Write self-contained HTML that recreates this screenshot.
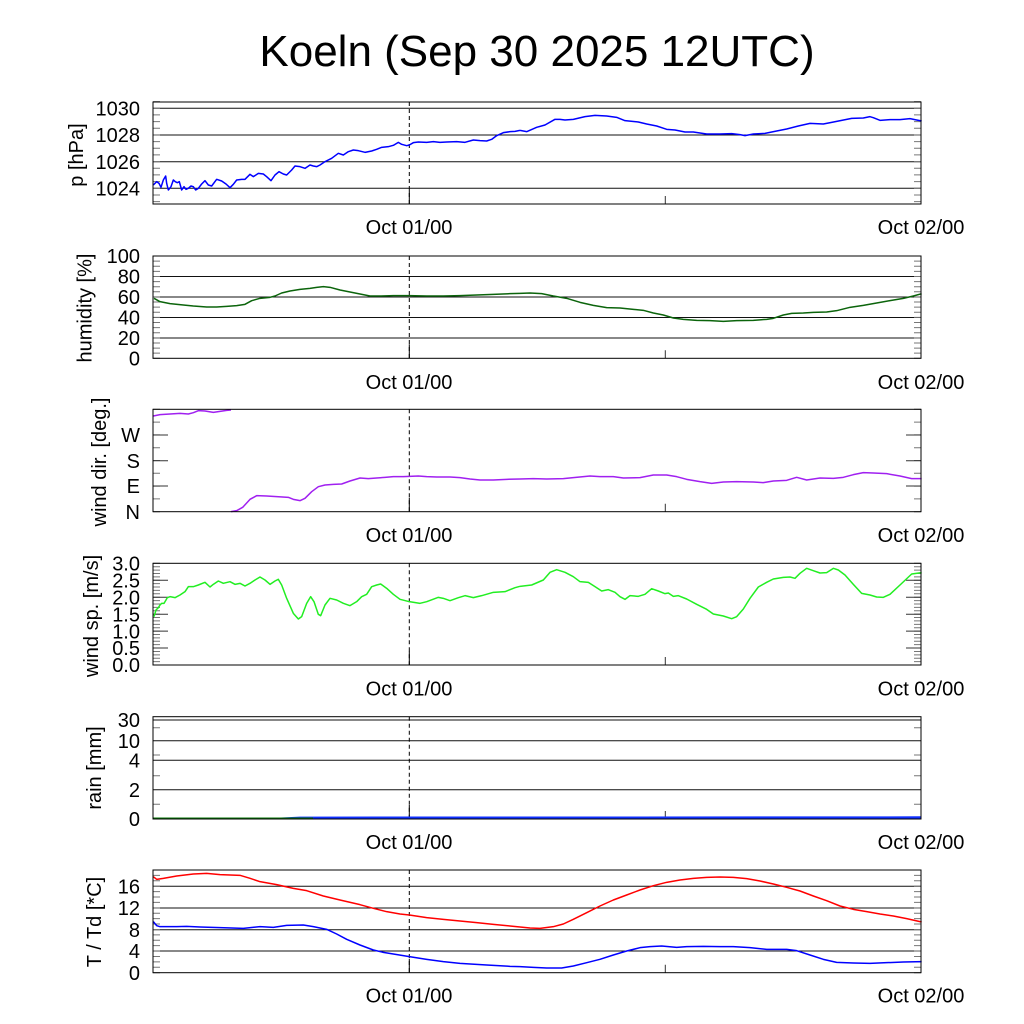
<!DOCTYPE html>
<html><head><meta charset="utf-8"><style>
html,body{margin:0;padding:0;background:#fff;}
svg{display:block;font-family:"Liberation Sans",Arial,sans-serif;}
.t{font-size:20px;fill:#000;}
.d{fill:none;stroke-width:1.5;vector-effect:non-scaling-stroke;stroke-linejoin:round;}
</style></head><body>
<svg width="1024" height="1024" viewBox="0 0 1024 1024" xmlns="http://www.w3.org/2000/svg">
<rect width="1024" height="1024" fill="#fff"/>
<text x="537" y="66" text-anchor="middle" font-size="44">Koeln (Sep 30 2025 12UTC)</text>

<!-- grid lines -->
<path d="M153 108.3H921M153 135H921M153 161.7H921M153 188.3H921
M153 276.5H921M153 297H921M153 317.5H921M153 338H921
M153 720H921M153 740.7H921M153 760.3H921M153 789.7H921
M153 886.3H921M153 908H921M153 929.7H921M153 951H921" stroke="#111" stroke-width="1" fill="none"/>

<!-- minor ticks via dashed lines -->
<g stroke="#777" stroke-width="7" fill="none">
<path d="M156.5 101.1V202.5M917.5 101.1V202.5" stroke-dasharray="1 5.667"/>
<path d="M156.5 255.5V359M917.5 255.5V359" stroke-dasharray="1 4.115"/>
<path d="M156.5 408.8V512.5M917.5 408.8V512.5" stroke-dasharray="1 11.8"/>
<path d="M156.5 562.8V666M917.5 562.8V666" stroke-dasharray="1 2.39"/>
<path d="M156.5 869.5V973.5M917.5 869.5V973.5" stroke-dasharray="1 4.405"/>
<path d="M153 727.7H160M153 755H160M153 775.7H160M153 804.3H160M914 727.7H921M914 755H921M914 775.7H921M914 804.3H921" stroke-width="1"/>
</g>
<!-- major ticks -->
<g stroke="#333" stroke-width="1" fill="none">
<path d="M153 435H168M153 460.7H168M153 486H168M906 435H921M906 460.7H921M906 486H921"/>
<path d="M153 580.3H168M153 597.2H168M153 614.2H168M153 631.1H168M153 648H168M906 580.3H921M906 597.2H921M906 614.2H921M906 631.1H921M906 648H921"/>
<path d="M665.3 196V204M665.3 350.3V358.3M665.3 503.7V511.7M665.3 657V665M665.3 811V819M665.3 964.7V972.7"/>
<path d="M409.3 190V204M409.3 344.3V358.3M409.3 497.7V511.7M409.3 651V665M409.3 805V819M409.3 958.7V972.7" stroke="#000"/>
</g>
<!-- dashed vertical -->
<path d="M409.3 102V204M409.3 256V358.3M409.3 409.3V511.7M409.3 563.3V665M409.3 716.7V819M409.3 870V972.7" stroke="#000" stroke-width="1" stroke-dasharray="4 3" fill="none"/>

<!-- rain data -->
<polygon points="240,819 270,818 300,816.6 921,816.3 921,819" fill="#1030ff"/>
<path d="M153 818.3H313" stroke="#0a7a0a" stroke-width="1.5"/>

<!-- pressure -->
<g transform="translate(60,90) scale(0.333333)">
<polyline class="d" stroke="#0000ff" points="280,285 290,275 297,280 303,292 310,270 317,258 320,280 325,300 333,290 340,270 346,275 352,278 358,275 365,300 372,290 378,298 385,295 393,288 400,290 407,300 415,295 425,282 435,272 445,285 455,288 470,268 485,273 498,282 510,293 520,283 530,270 545,268 555,268 570,253 580,260 595,250 610,252 620,260 633,272 645,255 657,245 670,252 680,255 695,240 705,228 720,230 735,235 750,225 760,228 770,230 780,225 795,215 815,205 835,190 850,195 865,185 880,180 895,182 915,187 935,183 950,178 965,172 985,170 1000,166 1015,157 1025,163 1040,167 1048,165 1060,158 1075,156 1100,157 1120,155 1140,157 1160,156 1190,155 1215,157 1240,150 1260,152 1280,153 1295,148 1310,137 1330,128 1350,125 1365,124 1380,121"/>
</g>
<g transform="translate(520,90) scale(0.333333)">
<polyline class="d" stroke="#0000ff" points="0,121 20,125 50,112 75,105 105,88 120,88 135,90 160,88 195,80 225,76 260,78 290,82 315,92 355,96 380,102 410,108 440,118 465,120 495,126 520,126 560,132 600,132 635,131 660,134 675,137 700,132 735,130 770,123 800,117 835,108 870,100 910,102 935,97 965,91 995,85 1030,84 1050,80 1060,83 1080,91 1110,89 1140,89 1170,86 1190,90 1205,93"/>
</g>

<!-- humidity -->
<g transform="translate(60,245) scale(0.333333)">
<polyline class="d" stroke="#0b640b" points="282,160 300,170 330,176 370,180 400,183 440,186 470,186 500,184 530,182 555,178 575,167 600,160 630,157 645,153 665,144 690,138 720,133 750,130 770,127 790,125 810,127 840,135 870,141 900,147 930,153 960,153 1000,152 1048,152 1100,153 1150,153 1200,152 1250,150 1300,148 1350,146 1380,145"/>
</g>
<g transform="translate(520,245) scale(0.333333)">
<polyline class="d" stroke="#0b640b" points="0,145 30,144 65,146 100,153 140,160 180,172 220,181 260,188 300,189 340,193 370,196 400,204 430,210 460,219 490,223 530,226 570,227 610,229 650,227 700,226 740,223 760,220 790,210 815,205 850,204 880,202 920,201 950,197 990,187 1030,181 1070,174 1110,167 1150,160 1180,153 1205,146"/>
</g>

<!-- wind dir -->
<g transform="translate(60,400) scale(0.333333)">
<polyline class="d" stroke="#a020f0" points="280,48 300,44 330,42 360,40 385,42 400,38 415,32 435,33 460,37 480,34 500,31 513,30"/>
<polyline class="d" stroke="#a020f0" points="513,335 530,332 548,322 570,298 590,287 620,288 650,290 685,292 700,298 720,302 735,295 755,275 775,260 795,255 820,253 845,252 870,243 900,234 925,236 950,234 975,232 1000,230 1030,230 1048,229 1075,228 1100,230 1130,231 1170,231 1200,233 1230,237 1260,240 1300,240 1340,238 1380,237"/>
</g>
<g transform="translate(520,400) scale(0.333333)">
<polyline class="d" stroke="#a020f0" points="0,237 40,236 80,237 130,236 160,233 210,228 240,230 280,230 310,234 360,233 400,225 440,225 470,230 500,238 540,245 575,250 610,246 650,245 700,246 730,248 760,243 800,241 830,232 860,240 900,234 940,235 970,232 1000,224 1030,218 1060,219 1100,221 1140,228 1175,236 1205,236"/>
</g>

<!-- wind speed -->
<g transform="translate(60,555) scale(0.333333)">
<polyline class="d" stroke="#22ee22" points="282,185 288,165 295,158 300,150 305,145 312,145 318,135 322,128 330,125 345,128 360,120 375,110 385,95 400,95 415,90 435,82 450,96 460,88 475,78 490,85 510,80 525,88 540,85 555,93 570,85 585,75 600,66 615,75 630,88 645,78 655,73 665,90 680,130 700,175 715,192 725,185 740,145 752,125 762,140 775,178 782,182 795,150 810,130 830,135 850,145 870,152 890,140 905,125 920,118 935,95 950,90 962,87 980,100 1000,118 1020,133 1048,140 1080,145 1100,140 1135,127 1150,130 1170,137 1195,128 1215,122 1240,128 1265,122 1300,112 1335,110 1365,98 1380,94"/>
</g>
<g transform="translate(520,555) scale(0.333333)">
<polyline class="d" stroke="#22ee22" points="0,94 35,90 70,75 90,52 110,44 135,52 160,65 180,80 205,82 225,95 245,108 265,104 285,112 300,125 315,133 330,122 355,124 375,118 395,101 415,108 435,116 445,114 460,124 475,122 500,132 530,148 560,163 580,177 610,183 635,191 650,185 670,162 690,130 715,96 740,82 760,72 790,67 810,66 825,70 840,55 860,40 880,47 900,54 920,53 940,40 955,45 975,60 1000,88 1025,115 1050,120 1070,126 1090,127 1110,118 1140,90 1175,57 1205,53"/>
</g>

<!-- temperature -->
<g transform="translate(60,860) scale(0.333333)">
<polyline class="d" stroke="#ff0000" points="280,50 290,58 310,55 350,48 400,42 440,40 480,44 540,46 570,55 600,65 650,74 700,85 740,92 790,108 840,120 900,134 940,145 980,155 1020,162 1048,165 1100,173 1150,178 1200,183 1250,188 1300,193 1350,198 1380,201"/>
<polyline class="d" stroke="#0000ff" points="280,185 290,197 300,200 350,200 380,199 420,201 480,203 550,205 600,200 640,202 680,196 730,195 760,200 800,208 830,222 860,238 900,255 940,270 970,277 1000,282 1048,290 1100,298 1150,305 1200,310 1280,315 1350,319 1380,320"/>
</g>
<g transform="translate(520,860) scale(0.333333)">
<polyline class="d" stroke="#ff0000" points="0,201 30,204 60,205 100,200 130,192 160,178 200,158 240,138 280,120 320,105 360,90 400,77 440,67 480,60 520,55 560,52 600,51 640,52 680,56 720,63 760,72 800,82 840,93 880,108 920,122 960,138 1000,148 1040,155 1080,162 1120,168 1160,176 1205,186"/>
<polyline class="d" stroke="#0000ff" points="0,320 40,322 80,324 125,324 160,318 200,308 240,298 280,285 320,273 360,263 390,260 425,258 470,262 500,260 550,259 600,260 640,260 690,263 740,268 800,268 830,272 870,285 910,298 950,307 1000,309 1050,310 1100,308 1150,306 1205,305"/>
</g>

<!-- panel borders -->
<g stroke="#000" stroke-width="1" fill="none">
<rect x="153" y="102" width="768" height="102"/>
<rect x="153" y="256" width="768" height="102.3"/>
<rect x="153" y="409.3" width="768" height="102.4"/>
<rect x="153" y="563.3" width="768" height="101.7"/>
<rect x="153" y="716.7" width="768" height="102.3"/>
<rect x="153" y="870" width="768" height="102.7"/>
</g>

<!-- y tick labels -->
<g class="t" text-anchor="end">
<text x="140" y="115.5" class="t">1030</text>
<text x="140" y="142.2" class="t">1028</text>
<text x="140" y="168.9" class="t">1026</text>
<text x="140" y="195.5" class="t">1024</text>

<text x="140" y="263.2" class="t">100</text>
<text x="140" y="283.7" class="t">80</text>
<text x="140" y="304.2" class="t">60</text>
<text x="140" y="324.7" class="t">40</text>
<text x="140" y="345.2" class="t">20</text>
<text x="140" y="365.5" class="t">0</text>

<text x="140" y="442.2" class="t">W</text>
<text x="140" y="467.9" class="t">S</text>
<text x="140" y="493.2" class="t">E</text>
<text x="140" y="518.9" class="t">N</text>

<text x="140" y="570.5" class="t">3.0</text>
<text x="140" y="587.5" class="t">2.5</text>
<text x="140" y="604.4" class="t">2.0</text>
<text x="140" y="621.4" class="t">1.5</text>
<text x="140" y="638.3" class="t">1.0</text>
<text x="140" y="655.2" class="t">0.5</text>
<text x="140" y="672.2" class="t">0.0</text>

<text x="140" y="727.2" class="t">30</text>
<text x="140" y="747.9" class="t">10</text>
<text x="140" y="767.5" class="t">4</text>
<text x="140" y="796.9" class="t">2</text>
<text x="140" y="826.2" class="t">0</text>

<text x="140" y="893.5" class="t">16</text>
<text x="140" y="915.2" class="t">12</text>
<text x="140" y="936.9" class="t">8</text>
<text x="140" y="958.2" class="t">4</text>
<text x="140" y="979.9" class="t">0</text>
</g>

<!-- x labels -->
<g class="t" text-anchor="middle">
<text x="409" y="234" class="t">Oct 01/00</text><text x="921" y="234" class="t">Oct 02/00</text>
<text x="409" y="389" class="t">Oct 01/00</text><text x="921" y="389" class="t">Oct 02/00</text>
<text x="409" y="542" class="t">Oct 01/00</text><text x="921" y="542" class="t">Oct 02/00</text>
<text x="409" y="695.5" class="t">Oct 01/00</text><text x="921" y="695.5" class="t">Oct 02/00</text>
<text x="409" y="849" class="t">Oct 01/00</text><text x="921" y="849" class="t">Oct 02/00</text>
<text x="409" y="1002.5" class="t">Oct 01/00</text><text x="921" y="1002.5" class="t">Oct 02/00</text>
</g>

<!-- y axis titles -->
<g class="t" text-anchor="middle">
<text class="t" transform="translate(83,155) rotate(-90)">p [hPa]</text>
<text class="t" transform="translate(91.5,308) rotate(-90)">humidity [%]</text>
<text class="t" transform="translate(106,462) rotate(-90)">wind dir. [deg.]</text>
<text class="t" transform="translate(98,616) rotate(-90)">wind sp. [m/s]</text>
<text class="t" transform="translate(101,768) rotate(-90)">rain [mm]</text>
<text class="t" transform="translate(101,922) rotate(-90)">T / Td [*C]</text>
</g>
</svg>
</body></html>
